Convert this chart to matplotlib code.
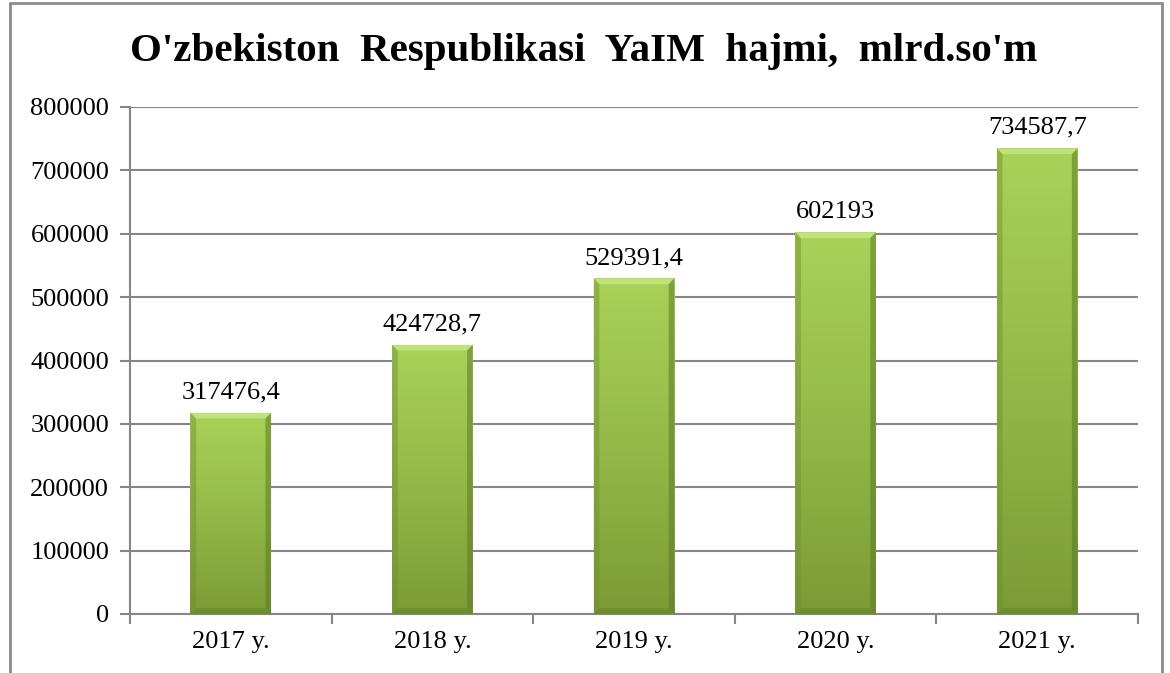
import matplotlib

matplotlib.use("Agg")
import matplotlib.pyplot as plt
import numpy as np
from matplotlib.colors import LinearSegmentedColormap
from matplotlib.patches import Polygon, Rectangle

yillar = ["2017 y.", "2018 y.", "2019 y.", "2020 y.", "2021 y."]
yaim = [317476.4, 424728.7, 529391.4, 602193, 734587.7]
yorliqlar = ["317476,4", "424728,7", "529391,4", "602193", "734587,7"]

plt.rcParams["font.family"] = ["Liberation Serif", "DejaVu Serif"]

fig = plt.figure(figsize=(11.7, 6.73), dpi=100)
ax = fig.add_axes([130 / 1170, 1 - 614 / 673, (1138 - 130) / 1170, (614 - 107) / 673])

# ramka
fig.patches.append(Rectangle((10 / 1170, -0.05), 1152 / 1170, 1.05 - 3 / 673,
                             transform=fig.transFigure, fill=False,
                             edgecolor="#8c8c8c", linewidth=2))

x = np.arange(len(yillar))
kenglik = 0.4
ustunlar = ax.bar(x, yaim, width=kenglik, color="#9bc34e", edgecolor="none", zorder=3)

# vertikal gradient + bevel
cmap = LinearSegmentedColormap.from_list("yashil", ["#7b9b36", "#93ba48", "#a8d258"])
grad = np.linspace(0, 1, 256).reshape(-1, 1)
bx = 0.028   # bevel eni (x birlikda)
by = 9000    # bevel balandligi (y birlikda)
for ust in ustunlar:
    x0, y0 = ust.get_x(), ust.get_y()
    w, h = ust.get_width(), ust.get_height()
    x1, y1 = x0 + w, y0 + h
    img = ax.imshow(grad, cmap=cmap, extent=[x0, x1, y0, y1], origin="lower",
                    aspect="auto", zorder=3.5)
    img.set_clip_path(ust)
    ax.add_patch(Polygon([(x0, y1), (x1, y1), (x1 - bx, y1 - by), (x0 + bx, y1 - by)],
                         facecolor="#bfe27a", edgecolor="none", zorder=4))
    ax.add_patch(Polygon([(x0, y0), (x0 + bx, y0 + by), (x0 + bx, y1 - by), (x0, y1)],
                         facecolor="#6f8e2f", edgecolor="none", alpha=0.45, zorder=4))
    ax.add_patch(Polygon([(x1, y0), (x1 - bx, y0 + by), (x1 - bx, y1 - by), (x1, y1)],
                         facecolor="#5e7a26", edgecolor="none", alpha=0.55, zorder=4))
    ax.add_patch(Polygon([(x0, y0), (x1, y0), (x1 - bx, y0 + by), (x0 + bx, y0 + by)],
                         facecolor="#66852a", edgecolor="none", alpha=0.6, zorder=4))

for xi, v, t in zip(x, yaim, yorliqlar):
    ax.text(xi, v + 15000, t, ha="center", va="bottom", fontsize=19)

ax.set_xlim(-0.5, len(yillar) - 0.5)
ax.set_ylim(0, 800000)
ax.set_yticks(np.arange(0, 800001, 100000))
ax.set_yticklabels([str(v) for v in range(0, 800001, 100000)], fontsize=19)
ax.set_xticks(x)
ax.set_xticklabels(yillar, fontsize=19)
ax.set_xticks(np.arange(-0.5, len(yillar)), minor=True)
ax.tick_params(axis="x", which="major", length=0, pad=12)
ax.tick_params(axis="x", which="minor", length=7, color="#868686", width=1.5)
ax.tick_params(axis="y", length=7, color="#868686", width=1.5, pad=8)
ax.grid(axis="y", color="#868686", linewidth=1.5, zorder=0)
for s in ["top", "right"]:
    ax.spines[s].set_visible(False)
for s in ["left", "bottom"]:
    ax.spines[s].set_color("#868686")
    ax.spines[s].set_linewidth(1.5)

fig.text(584 / 1170, 1 - 51 / 673,
         "O'zbekiston  Respublikasi  YaIM  hajmi,  mlrd.so'm",
         ha="center", va="center", fontsize=29.5, fontweight="bold")

fig.savefig("out.png", dpi=100)
